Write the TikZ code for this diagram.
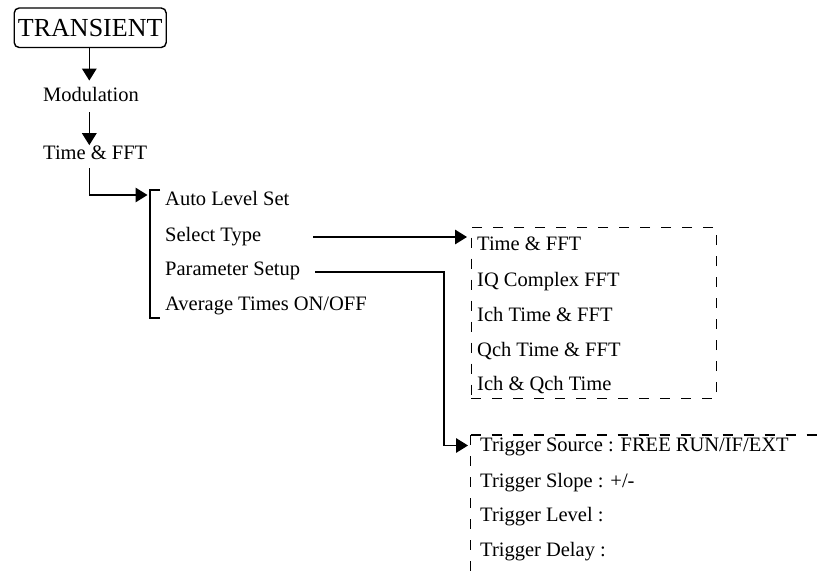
\documentclass[tikz,border=0pt]{standalone}
\usepackage{fontspec}
\setmainfont{Liberation Serif}
\usetikzlibrary{arrows.meta}
\tikzset{
  txt/.style={anchor=base west, inner sep=0pt, font=\fontsize{20.5}{24}\selectfont},
  arr/.style={line width=1.6pt, -{Triangle[length=12pt,width=14.5pt]}},
  plain/.style={line width=1.6pt},
  brk/.style={line width=1.1pt},
  dsh/.style={line width=1.3pt, dash pattern=on 10pt off 11pt},
}
\begin{document}
\begin{tikzpicture}[x=1pt,y=1pt]
\useasboundingbox (0,0) rectangle (822,-572);
% top box
\node[draw, line width=1.4pt, rounded corners=5pt, inner sep=0pt,
      minimum width=152pt, minimum height=39.5pt, anchor=north west,
      font=\fontsize{26}{30}\selectfont] (trans) at (13.5,-7.3) {TRANSIENT};
\coordinate (colx) at (89.3,0);
\node[txt] (mod) at (43,-102) {Modulation};
\node[txt] (tf) at (43,-160) {Time \& FFT};
\draw[arr] (trans.south -| colx) -- ([yshift=7pt]mod.north -| colx);
\draw[arr] ([yshift=-10pt]mod.south -| colx) -- ([yshift=1pt]tf.north -| colx);
% bracket menu
\coordinate (bt) at (150,-190);
\coordinate (bb) at (150,-318);
\coordinate (in1) at (147.5,-195);
\draw[brk] ([xshift=10pt]bt) -- (bt) -- (bb) -- ([xshift=10pt]bb);
\draw[arr] ([yshift=-8pt]tf.south -| colx) |- (in1);
\node[txt] (als) at (165,-206) {Auto Level Set};
\node[txt] (sel) at (165,-241) {Select Type};
\node[txt] (par) at (165,-276) {Parameter Setup};
\node[txt] (avg) at (165,-310.5) {Average Times ON/OFF};
% select type box
\node[draw, dsh, anchor=north west, minimum width=245.5pt, minimum height=171pt,
      inner sep=0pt] (box1) at (470.5,-227) {};
\node[txt] (t1) at (477,-250.7) {Time \& FFT};
\node[txt] (t2) at (477,-286) {IQ Complex FFT};
\node[txt] (t3) at (477,-321) {Ich Time \& FFT};
\node[txt] (t4) at (477,-356) {Qch Time \& FFT};
\node[txt] (t5) at (477,-390.5) {Ich \& Qch Time};
\coordinate (s1) at (313,-237);
\draw[arr, shorten >=3.5pt] (s1) -- (box1.west |- s1);
% parameter setup box
\coordinate (b2c) at (470.7,-435);
\coordinate (b2r) at (822,-435);
\coordinate (b2b) at (470.7,-572);
\draw[dsh] (b2c) -- (b2r);
\draw[dsh] (b2c) -- (b2b);
\coordinate (p1) at (315,-272);
\coordinate (p2) at (444,-272);
\coordinate (p3) at (468,-445.5);
\draw[arr] (p1) -- (p2) |- (p3);
\node[txt] (r1) at (480,-451) {Trigger Source : FREE RUN/IF/EXT};
\node[txt] (r2) at (480,-487) {Trigger Slope : +/-};
\node[txt] (r3) at (480,-521.5) {Trigger Level :};
\node[txt] (r4) at (480,-556) {Trigger Delay :};
\end{tikzpicture}
\end{document}
